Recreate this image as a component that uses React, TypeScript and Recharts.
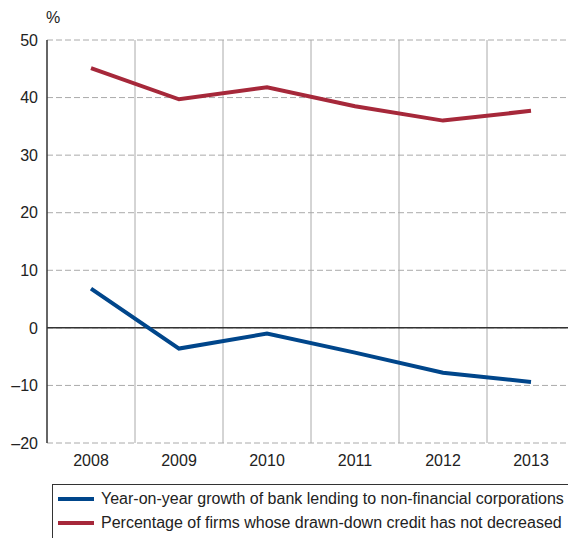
import { LineChart, Line, XAxis, YAxis, CartesianGrid, ReferenceLine } from 'recharts';

// categories and series
const years = ['2008', '2009', '2010', '2011', '2012', '2013'];
const lendingGrowth = [6.8, -3.6, -1.0, -4.3, -7.8, -9.4];
const firmsNotDecreased = [45.1, 39.7, 41.8, 38.5, 36.0, 37.7];
const yTicks = [-20, -10, 0, 10, 20, 30, 40, 50];
const seriesNames = [
  'Year-on-year growth of bank lending to non-financial corporations',
  'Percentage of firms whose drawn-down credit has not decreased',
];

const BLUE = '#00468b';
const RED = '#a6283a';
const FONT = '"Liberation Sans", Arial, Helvetica, sans-serif';

const data = years.map((y, i) => ({
  year: y,
  lending: lendingGrowth[i],
  firms: firmsNotDecreased[i],
}));

const fmtY = (v: number) => (v < 0 ? `\u2013${Math.abs(v)}` : `${v}`);

// vertical grid at band boundaries (not at band centres)
// eslint-disable-next-line @typescript-eslint/no-explicit-any
const bandEdges = ({ offset }: any) => {
  const step = offset.width / years.length;
  const out: number[] = [];
  for (let i = 1; i < years.length; i++) out.push(offset.left + step * i);
  return out;
};

export default function App() {
  return (
    <div
      style={{
        position: 'absolute',
        left: 0,
        top: 0,
        width: 568,
        height: 538,
        overflow: 'hidden',
        fontFamily: FONT,
        background: '#fff',
      }}
    >
      <div style={{ position: 'absolute', left: 46, top: 9, fontSize: 16, color: '#222' }}>%</div>
      <LineChart
        width={580}
        height={538}
        data={data}
        margin={{ top: 40, right: 5, left: 0, bottom: 55 }}
        style={{ fontFamily: FONT }}
      >
        <CartesianGrid vertical={false} stroke="#aaa" strokeDasharray="6 3" />
        <CartesianGrid horizontal={false} stroke="#aaa" verticalCoordinatesGenerator={bandEdges} />
        <XAxis
          dataKey="year"
          scale="band"
          height={40}
          axisLine={false}
          tickLine={false}
          tickSize={0}
          tickMargin={12}
          tick={{ fill: '#222', fontSize: 16 }}
          interval={0}
        />
        <YAxis
          width={47}
          domain={[-20, 50]}
          ticks={yTicks}
          tickFormatter={fmtY}
          axisLine={{ stroke: '#333', strokeWidth: 1.5 }}
          tickLine={false}
          tickSize={0}
          tickMargin={9}
          tick={{ fill: '#222', fontSize: 16 }}
          interval={0}
        />
        <ReferenceLine y={0} stroke="#333" strokeWidth={1.5} />
        <Line
          dataKey="firms"
          stroke={RED}
          strokeWidth={4}
          dot={false}
          type="linear"
          isAnimationActive={false}
        />
        <Line
          dataKey="lending"
          stroke={BLUE}
          strokeWidth={4}
          dot={false}
          type="linear"
          isAnimationActive={false}
        />
      </LineChart>
      <div
        style={{
          position: 'absolute',
          left: 52,
          top: 484,
          width: 540,
          height: 70,
          border: '1px solid #333',
          fontSize: 16,
          color: '#222',
        }}
      >
        {[BLUE, RED].map((c, i) => (
          <div
            key={i}
            style={{ position: 'absolute', left: 0, top: 4 + i * 24, height: 20, display: 'flex', alignItems: 'center' }}
          >
            <span style={{ display: 'inline-block', marginLeft: 5, width: 36, height: 4, background: c }} />
            <span style={{ marginLeft: 7, whiteSpace: 'nowrap' }}>{seriesNames[i]}</span>
          </div>
        ))}
      </div>
    </div>
  );
}
